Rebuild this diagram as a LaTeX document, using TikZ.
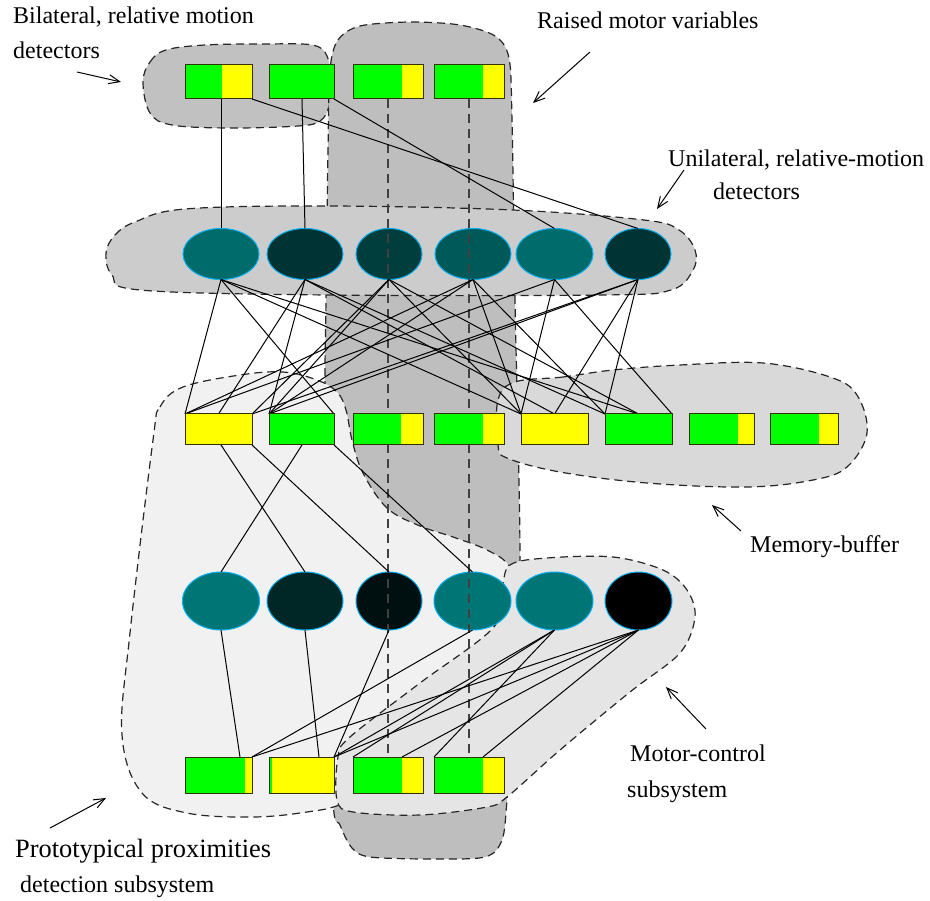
\documentclass[tikz,border=0pt]{standalone}
\usepackage{fontspec}
\setmainfont{Liberation Serif}
\usetikzlibrary{arrows.meta,calc,shapes.geometric}
\pgfdeclarelayer{back}\pgfdeclarelayer{front}
\pgfsetlayers{back,main,front}
\definecolor{gbil}{gray}{0.755}
\definecolor{gmot}{gray}{0.745}
\definecolor{guni}{gray}{0.80}
\definecolor{gmem}{gray}{0.85}
\definecolor{gctl}{gray}{0.90}
\definecolor{gpro}{gray}{0.945}
\definecolor{bgreen}{rgb}{0,1,0}
\definecolor{byellow}{rgb}{1,1,0}
\definecolor{brickline}{rgb}{0.2,0.2,0}
\definecolor{tA}{rgb}{0,0.42,0.42}
\definecolor{tB}{rgb}{0,0.2,0.2}
\definecolor{tC}{rgb}{0,0.24,0.24}
\definecolor{tD}{rgb}{0,0.35,0.35}
\definecolor{tE}{rgb}{0,0.46,0.46}
\definecolor{tF}{rgb}{0,0.15,0.15}
\definecolor{tG}{rgb}{0,0.06,0.06}
\begin{document}
\begin{tikzpicture}[x=1pt,y=-1pt,
  blob/.style={draw=black!85, dash pattern=on 8pt off 5pt, line width=1.2pt},
  brick/.style={draw=brickline, line width=1pt, fill=bgreen, inner sep=0pt, outer sep=0pt},
  yel/.style={path picture={\fill[byellow] ([xshift=-#1]path picture bounding box.north east) rectangle (path picture bounding box.south east);}},
  grn/.style={path picture={\fill[bgreen] (path picture bounding box.north west) rectangle ([xshift=#1]path picture bounding box.south west);}},
  cell/.style={ellipse, draw=cyan, line width=1pt, inner sep=0pt, outer sep=0pt},
  wire/.style={line width=1pt},
  dwire/.style={line width=1.2pt, draw=black!75, dash pattern=on 9pt off 6pt},
  lbl/.style={anchor=base west, inner sep=0pt, font=\fontsize{24}{28}\selectfont},
  ptr/.style={line width=1pt, -{Straight Barb[length=11pt,width=9pt]}}]
\useasboundingbox (0,0) rectangle (930,901);

% ---------- background regions ----------
\begin{pgfonlayer}{back}
\draw[blob, fill=gbil] plot[smooth cycle, tension=0.6] coordinates {(143,82) (150,62) (166,50) (205,45) (265,44) (312,45) (327,56) (330,82) (329,106) (320,121) (298,126) (230,128) (172,125) (150,113)};
\draw[blob, fill=gmot] plot[smooth cycle, tension=0.5] coordinates {(330,70) (338,40) (360,26) (410,22) (460,25) (495,36) (509,58) (512,120) (515,300) (520,560) (514,700) (507,800) (502,840) (485,857) (430,859) (370,857) (352,848) (340,825) (333,800) (328,600) (325,400) (326,300) (328,150)};
\draw[blob, fill=guni] plot[smooth cycle, tension=0.6] coordinates {(106,253) (115,235) (135,222) (185,209) (329,206) (513,210) (644,220) (679,230) (695,250) (693,270) (671,290) (604,295) (327,295) (140,290) (112,275)};
\draw[blob, fill=gmem] plot[smooth cycle, tension=0.6] coordinates {(515,382) (563,377) (613,370) (680,365) (763,363) (830,377) (857,395) (867,433) (847,467) (813,480) (747,487) (647,483) (560,472) (507,458) (498,445) (498,400)};
\draw[blob, fill=gpro] plot[smooth cycle, tension=0.6] coordinates {(153,440) (160,407) (183,387) (240,375) (283,372) (317,380) (337,392) (346,410) (352,440) (363,473) (387,508) (420,526) (453,537) (487,550) (510,567) (530,610) (480,700) (420,770) (345,803) (307,812) (253,817) (187,813) (142,793) (122,735) (130,633)};
\draw[blob, fill=gctl] plot[smooth cycle, tension=0.55] coordinates {(510,565) (547,558) (613,557) (663,570) (687,590) (695,617) (680,653) (630,692) (560,750) (507,797) (487,807) (420,815) (353,812) (337,800) (338,757) (350,737) (420,683) (493,628) (502,590)};
\end{pgfonlayer}

% ---------- bricks (front layer) ----------
\begin{pgfonlayer}{front}
\node[brick, minimum width=67pt, minimum height=34pt, yel=30pt] (r1) at (218.5,82) {};
\node[brick, minimum width=65pt, minimum height=34pt] (r2) at (301.5,82) {};
\node[brick, minimum width=70pt, minimum height=34pt, yel=21pt] (r3) at (388,82) {};
\node[brick, minimum width=70pt, minimum height=34pt, yel=21pt] (r4) at (469,82) {};

\node[brick, fill=byellow, minimum width=67pt, minimum height=31pt] (m1) at (218.5,429.5) {};
\node[brick, minimum width=65pt, minimum height=31pt] (m2) at (301.5,429.5) {};
\node[brick, minimum width=70pt, minimum height=31pt, yel=22pt] (m3) at (388,429.5) {};
\node[brick, minimum width=70pt, minimum height=31pt, yel=21pt] (m4) at (469,429.5) {};
\node[brick, fill=byellow, minimum width=67pt, minimum height=31pt] (m5) at (554.5,429.5) {};
\node[brick, minimum width=67pt, minimum height=31pt] (m6) at (638.5,429.5) {};
\node[brick, minimum width=65pt, minimum height=31pt, yel=16pt] (m7) at (721.5,429.5) {};
\node[brick, minimum width=68pt, minimum height=31pt, yel=19pt] (m8) at (804,429.5) {};

\node[brick, minimum width=67pt, minimum height=36pt, yel=7pt] (b1) at (218.5,775) {};
\node[brick, fill=byellow, minimum width=65pt, minimum height=36pt, grn=3pt] (b2) at (301.5,775) {};
\node[brick, minimum width=70pt, minimum height=36pt, yel=21pt] (b3) at (388,775) {};
\node[brick, minimum width=70pt, minimum height=36pt, yel=21pt] (b4) at (469,775) {};
\end{pgfonlayer}

% ---------- cells ----------
\node[cell, fill=tA, minimum width=76pt, minimum height=51pt] (e1) at (221,254) {};
\node[cell, fill=tB, minimum width=76pt, minimum height=51pt] (e2) at (305,254) {};
\node[cell, fill=tC, minimum width=66pt, minimum height=51pt] (e3) at (389,254) {};
\node[cell, fill=tD, minimum width=76pt, minimum height=51pt] (e4) at (473,254) {};
\node[cell, fill=tA, minimum width=77pt, minimum height=51pt] (e5) at (554.5,254) {};
\node[cell, fill=tB, minimum width=66pt, minimum height=51pt] (e6) at (638,254) {};

\node[cell, fill=tE, minimum width=77pt, minimum height=58pt] (e7) at (221,601) {};
\node[cell, fill=tF, minimum width=76pt, minimum height=58pt] (e8) at (305,601) {};
\node[cell, fill=tG, minimum width=66pt, minimum height=58pt] (e9) at (389,601) {};
\node[cell, fill=tE, minimum width=77pt, minimum height=58pt] (e10) at (472.5,601) {};
\node[cell, fill=tE, minimum width=77pt, minimum height=58pt] (e11) at (554.5,601) {};
\node[cell, fill=black, minimum width=67pt, minimum height=58pt] (e12) at (638.5,601) {};

% ---------- dashed motor lines ----------
\draw[dwire] (r3.south) -- (b3.north);
\draw[dwire] (r4.south) -- (b4.north);

% ---------- top row to cells ----------
\draw[wire] ([xshift=36pt]r1.south west) -- (e1.north);
\draw[wire] ([xshift=33pt]r2.south west) -- (e2.north);
\draw[wire] (r1.south east) -- (e6.north);
\draw[wire] (r2.south east) -- (e5.north);

% ---------- cells to memory buffer ----------
\foreach \s/\t in {e1/m1.north west, e1/m2.north east, e1/m5.north west, e1/m6.north,
                   e2/m1.north, e2/m2.north west, e2/m5.north, e2/m6.north west,
                   e3/m1.north east, e3/m2.north west, e3/m5.north west, e3/m6.north,
                   e4/m1.north west, e4/m2.north west, e4/m5.north west, e4/m6.north west,
                   e5/m1.north west, e5/m5.north west, e5/m6.north east,
                   e6/m1.north east, e6/m2.north west, e6/m5.north, e6/m6.north west}
  \draw[wire] (\s.south) -- (\t);

% ---------- memory buffer to lower cells ----------
\draw[wire] ([xshift=36pt]m1.south west) -- (e8.north);
\draw[wire] (m1.south east) -- (e9.north);
\draw[wire] ([xshift=33pt]m2.south west) -- (e7.north);
\draw[wire] (m2.south east) -- (e10.north);

% ---------- lower cells to bottom row ----------
\draw[wire] (e7.south) -- ([xshift=55pt]b1.north west);
\draw[wire] (e8.south) -- ([xshift=50pt]b2.north west);
\draw[wire] (e9.south) -- (b2.north east);
\draw[wire] (e10.south) -- (b1.north east);
\draw[wire] (e11.south) -- (b2.north east);
\draw[wire] (e11.south) -- (b3.north west);
\draw[wire] (e11.south) -- (b4.north west);
\draw[wire] (e12.south) -- (b1.north east);
\draw[wire] (e12.south) -- (b2.north east);
\draw[wire] (e12.south) -- ([xshift=49pt]b3.north west);
\draw[wire] (e12.south) -- ([xshift=49pt]b4.north west);

% ---------- labels ----------
\node[lbl] (t1) at (13,24) {Bilateral, relative motion};
\node[lbl] (t2) at (13,59) {detectors};
\node[lbl] (t3) at (537,29) {Raised motor variables};
\node[lbl] (t4) at (668,167) {Unilateral, relative-motion};
\node[lbl] (t5) at (713,200) {detectors};
\node[lbl] (t6) at (750,552) {Memory-buffer};
\node[lbl] (t7) at (630,761) {Motor-control};
\node[lbl] (t8) at (627,797) {subsystem};
\node[lbl, font=\fontsize{26.4}{30}\selectfont] (t9) at (15,857) {Prototypical proximities};
\node[lbl] (t10) at (20,892) {detection subsystem};

% ---------- pointer arrows ----------
\coordinate (a1s) at (77,72);  \coordinate (a1e) at (121,82);
\coordinate (a2s) at (590,52); \coordinate (a2e) at (533,103);
\coordinate (a3s) at (684,170); \coordinate (a3e) at (657,209);
\coordinate (a4s) at (741,531); \coordinate (a4e) at (712,505);
\coordinate (a5s) at (706,729); \coordinate (a5e) at (666,687);
\coordinate (a6s) at (50,828); \coordinate (a6e) at (106,798);
\draw[ptr] (a1s) -- (a1e);
\draw[ptr] (a2s) -- (a2e);
\draw[ptr] (a3s) -- (a3e);
\draw[ptr] (a4s) -- (a4e);
\draw[ptr] (a5s) -- (a5e);
\draw[ptr] (a6s) -- (a6e);
\end{tikzpicture}
\end{document}
